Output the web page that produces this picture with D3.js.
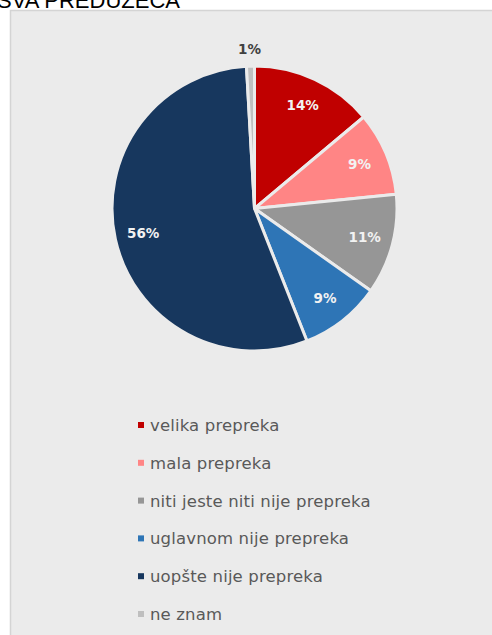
<!DOCTYPE html>
<html><head><meta charset="utf-8">
<script src="https://cdn.jsdelivr.net/npm/d3@7"></script>
<style>html,body{margin:0;padding:0;background:#fff;overflow:hidden}</style>
</head><body>
<svg id="c" width="492" height="635"></svg>
<script>
const categories = ["velika prepreka","mala prepreka","niti jeste niti nije prepreka","uglavnom nije prepreka","uopšte nije prepreka","ne znam"];
const values = [13.9, 9.5, 11.4, 9.2, 55.1, 0.9];
const labels = ["14%","9%","11%","9%","56%","1%"];
const colors = ["#C00000","#FF8585","#969696","#2E75B6","#17375E","#BFBFBF"];
const title = "SVA PREDUZEĆA";

const svg = d3.select("#c");
svg.append("text").attr("x",-3).attr("y",8).attr("font-family","Liberation Sans, Arial, sans-serif")
  .attr("font-size",22).attr("fill","#000").text(title);
svg.append("rect").attr("x",10.5).attr("y",10.5).attr("width",490).attr("height",640)
  .attr("fill","#EBEBEB").attr("stroke","#D4D4D4").attr("stroke-width",1.5);

const cx=254.5, cy=208.5, r=142.5;
const g = svg.append("g").attr("transform",`translate(${cx},${cy})`);
const pie = d3.pie().sort(null).value(d=>d);
const arcs = pie(values);
const arc = d3.arc().innerRadius(0).outerRadius(r);
g.selectAll("path").data(arcs).join("path")
  .attr("d",arc).attr("fill",(d,i)=>colors[i])
  .attr("stroke","#EBEBEB").attr("stroke-width",3).attr("stroke-linejoin","round");
const labArc = d3.arc().innerRadius(r*0.8).outerRadius(r*0.8);
g.selectAll("text.l").data(arcs).join("text").attr("class","l")
  .attr("transform",(d,i)=>{
    if(i===5) return `translate(${-5},${-159})`;
    const c=labArc.centroid(d); return `translate(${c[0]},${c[1]})`;})
  .attr("text-anchor","middle").attr("dy","0.36em")
  .attr("font-family","DejaVu Sans, Verdana, sans-serif").attr("font-weight","bold").attr("font-size",13.5)
  .attr("fill",(d,i)=>i===5?"#404040":"#F2F2F2").text((d,i)=>labels[i]);

const lg = svg.append("g");
const ly = d3.scalePoint().domain(categories).range([425,614]);
lg.selectAll("rect").data(categories).join("rect")
  .attr("x",138).attr("y",d=>ly(d)-3).attr("width",6).attr("height",6)
  .attr("fill",(d,i)=>colors[i]);
lg.selectAll("text").data(categories).join("text")
  .attr("x",150).attr("y",d=>ly(d)).attr("dy","0.36em")
  .attr("font-family","DejaVu Sans, Verdana, sans-serif").attr("font-size",16.5)
  .attr("letter-spacing",0.15)
  .attr("fill","#595959").text(d=>d);
</script>
</body></html>
